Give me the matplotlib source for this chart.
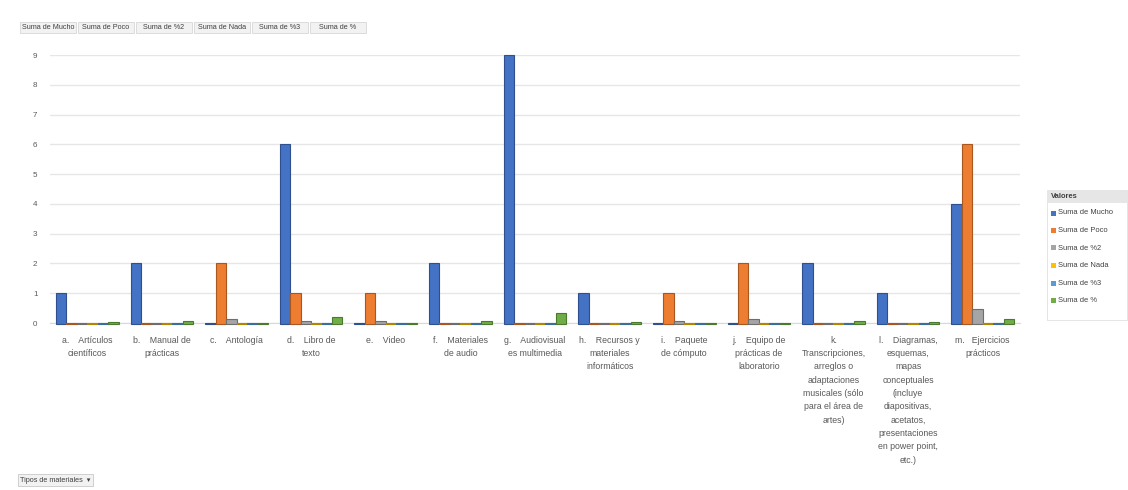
import matplotlib
matplotlib.use("Agg")
import matplotlib.pyplot as plt
import numpy as np
from matplotlib.patches import Rectangle

plt.rcParams['font.family'] = ['Liberation Sans', 'DejaVu Sans']

categories = [
    "a.    Artículos\ncientíficos",
    "b.    Manual de\nprácticas",
    "c.    Antología",
    "d.    Libro de\ntexto",
    "e.    Video",
    "f.    Materiales\nde audio",
    "g.    Audiovisual\nes multimedia",
    "h.    Recursos y\nmateriales\ninformáticos",
    "i.    Paquete\nde cómputo",
    "j.    Equipo de\nprácticas de\nlaboratorio",
    "k.\nTranscripciones,\narreglos o\nadaptaciones\nmusicales (sólo\npara el área de\nartes)",
    "l.    Diagramas,\nesquemas,\nmapas\nconceptuales\n(incluye\ndiapositivas,\nacetatos,\npresentaciones\nen power point,\netc.)",
    "m.   Ejercicios\nprácticos",
]

series_names = ["Suma de Mucho", "Suma de Poco", "Suma de %2",
                "Suma de Nada", "Suma de %3", "Suma de %"]
mucho = [1, 2, 0, 6, 0, 2, 9, 1, 0, 0, 2, 1, 4]
poco = [0, 0, 2, 1, 1, 0, 0, 0, 1, 2, 0, 0, 6]
pct2 = [0, 0, 0.15, 0.08, 0.08, 0, 0, 0, 0.08, 0.15, 0, 0, 0.46]
nada = [0] * 13
pct3 = [0] * 13
pct = [0.04, 0.07, 0, 0.21, 0, 0.07, 0.32, 0.04, 0, 0, 0.07, 0.04, 0.14]
series = [mucho, poco, pct2, nada, pct3, pct]
colors = ["#4472C4", "#ED7D31", "#A5A5A5", "#FFC000", "#5B9BD5", "#70AD47"]
edges = ["#2F4F8F", "#A9561F", "#6E6E6E", "#B38600", "#3C6E9A", "#4A7A2E"]
yticks = list(range(0, 10))

W, H = 1128, 490
fig = plt.figure(figsize=(W / 100, H / 100), dpi=100)
ax = fig.add_axes([50 / W, 1 - 323 / H, (1020 - 50) / W, (323 - 55) / H])

x = np.arange(len(categories))
bw = 0.14
n = len(series)
for i, (vals, c, e) in enumerate(zip(series, colors, edges)):
    offs = (i - (n - 1) / 2) * bw
    ax.bar(x + offs, np.array(vals) + 0.03, bw, bottom=-0.03, color=c,
           edgecolor=e, linewidth=0.8, zorder=3, clip_on=False)

ax.set_xlim(-0.5, len(categories) - 0.5)
ax.set_ylim(0, 9)
ax.set_yticks(yticks)
ax.set_yticklabels([str(t) for t in yticks], fontsize=5.8, color="#595959")
ax.yaxis.grid(True, color="#E6E6E6", linewidth=1.0, zorder=0)
ax.set_axisbelow(True)
for s in ["top", "right", "left"]:
    ax.spines[s].set_visible(False)
ax.spines["bottom"].set_color("#D9D9D9")
ax.tick_params(axis="y", length=0, pad=9)
ax.tick_params(axis="x", length=0, pad=9)
ax.set_xticks(x)
ax.set_xticklabels(categories, fontsize=6.3, color="#595959", linespacing=1.62,
                   va="top", ha="center")

# top field buttons
tx = 20
bwid = 58
for name in series_names:
    fig.patches.append(Rectangle((tx / W, 1 - 33 / H), (bwid - 2) / W, 11 / H,
                                 transform=fig.transFigure, fc="#F2F2F2",
                                 ec="#D0D0D0", lw=0.5))
    fig.text((tx + bwid / 2 - 1) / W, 1 - 27.5 / H, name, fontsize=5.2, color="#404040",
             va="center", ha="center")
    tx += bwid

# bottom field button
fig.text(20 / W, 1 - 480 / H, "Tipos de materiales  \u25BE", fontsize=5.2, color="#404040",
         va="center", ha="left",
         bbox=dict(boxstyle="square,pad=0.3", fc="#F2F2F2", ec="#BFBFBF", lw=0.5))

# legend
lx0 = 1047
fig.patches.append(Rectangle((lx0 / W, 1 - 320 / H), (W - 1 - lx0) / W, 130 / H,
                             transform=fig.transFigure, fc="white", ec="#E0E0E0", lw=0.6))
fig.patches.append(Rectangle((lx0 / W, 1 - 203 / H), (W - 1 - lx0) / W, 12 / H,
                             transform=fig.transFigure, fc="#E7E6E6", ec="none"))
fig.text((lx0 + 4) / W, 1 - 197 / H, "Valores", fontsize=5.4, color="#404040",
         va="center", ha="left", fontweight="bold")
for i, (name, c) in enumerate(zip(series_names, colors)):
    yy = 213 + i * 17.5
    fig.patches.append(Rectangle(((lx0 + 4) / W, 1 - (yy + 2.5) / H),
                                 5 / W, 5 / H, transform=fig.transFigure, fc=c, ec="none"))
    fig.text((lx0 + 11) / W, 1 - yy / H, name, fontsize=5.4, color="#404040",
             va="center", ha="left")

fig.savefig("out.png", dpi=100, facecolor="white")
